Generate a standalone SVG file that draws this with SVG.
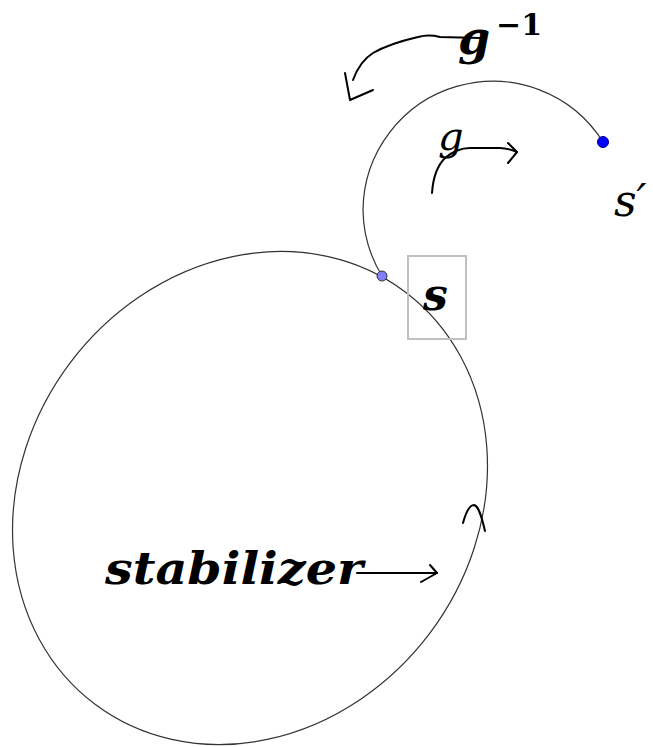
<svg xmlns="http://www.w3.org/2000/svg" width="653" height="747" viewBox="0 0 653 747">
<style>
.curve{fill:none;stroke:#333;stroke-width:1.2}
.hand{fill:none;stroke:#000;stroke-width:2;stroke-linecap:round;stroke-linejoin:round}
.lbl{font-family:"DejaVu Serif","Liberation Serif",serif;font-style:italic;fill:#000}
.b{font-weight:bold}
</style>
<rect width="653" height="747" fill="#fff"/>
<g id="stabilizer-orbit">
<ellipse class="curve" cx="250" cy="498" rx="258" ry="225" transform="rotate(-53 250 498)"/>
</g>
<g id="orbit-arc">
<path class="curve" d="M 603 142 A 130 130 0 0 0 363 210 A 130 130 0 0 0 382 276"/>
</g>
<g id="node-s">
<rect x="408" y="256" width="58" height="83" fill="none" stroke="#c0c0c0" stroke-width="2"/>
<circle cx="382" cy="276" r="5" fill="#7f7fff" stroke="#333" stroke-width="1"/>
<text class="lbl b" x="423" y="310" font-size="44">s</text>
</g>
<g id="node-s-prime">
<circle cx="603" cy="142" r="5.5" fill="#0000ff" stroke="#00008a" stroke-width="1"/>
<text class="lbl" x="614" y="216" font-size="44">s′</text>
</g>
<g id="label-g-inv">
<text class="lbl b" x="458" y="54" font-size="46">g</text>
<text x="496" y="35" font-size="30" font-weight="bold" font-family="DejaVu Serif, serif">−1</text>
</g>
<g id="label-g">
<text class="lbl" x="438" y="150" font-size="40">g</text>
</g>
<g id="label-stabilizer">
<text class="lbl b" x="105" y="584" font-size="44" textLength="258" lengthAdjust="spacingAndGlyphs">stabilizer</text>
</g>
<g id="connectors">
<path class="hand" d="M 480 38 L 440 37 C 432 35 425 35 418 37 C 405 40 385 46 373 53 C 365 58 358 66 353 80"/>
<path class="hand" d="M 345 73 L 350 100 L 373 90"/>
<path class="hand" d="M 432 193 C 433 178 437 166 445 158 C 452 152 460 148 470 148 L 500 148 C 507 148 512 150 517 152"/>
<path class="hand" d="M 508 143 L 517 152 L 508 163"/>
<path class="hand" d="M 357 573 L 437 573"/>
<path class="hand" d="M 430 565 L 437 573 L 421 582"/>
<path class="hand" d="M 463 523 C 466 512 470 505 474 505 C 479 506 482 518 485 531"/>
</g>
</svg>
